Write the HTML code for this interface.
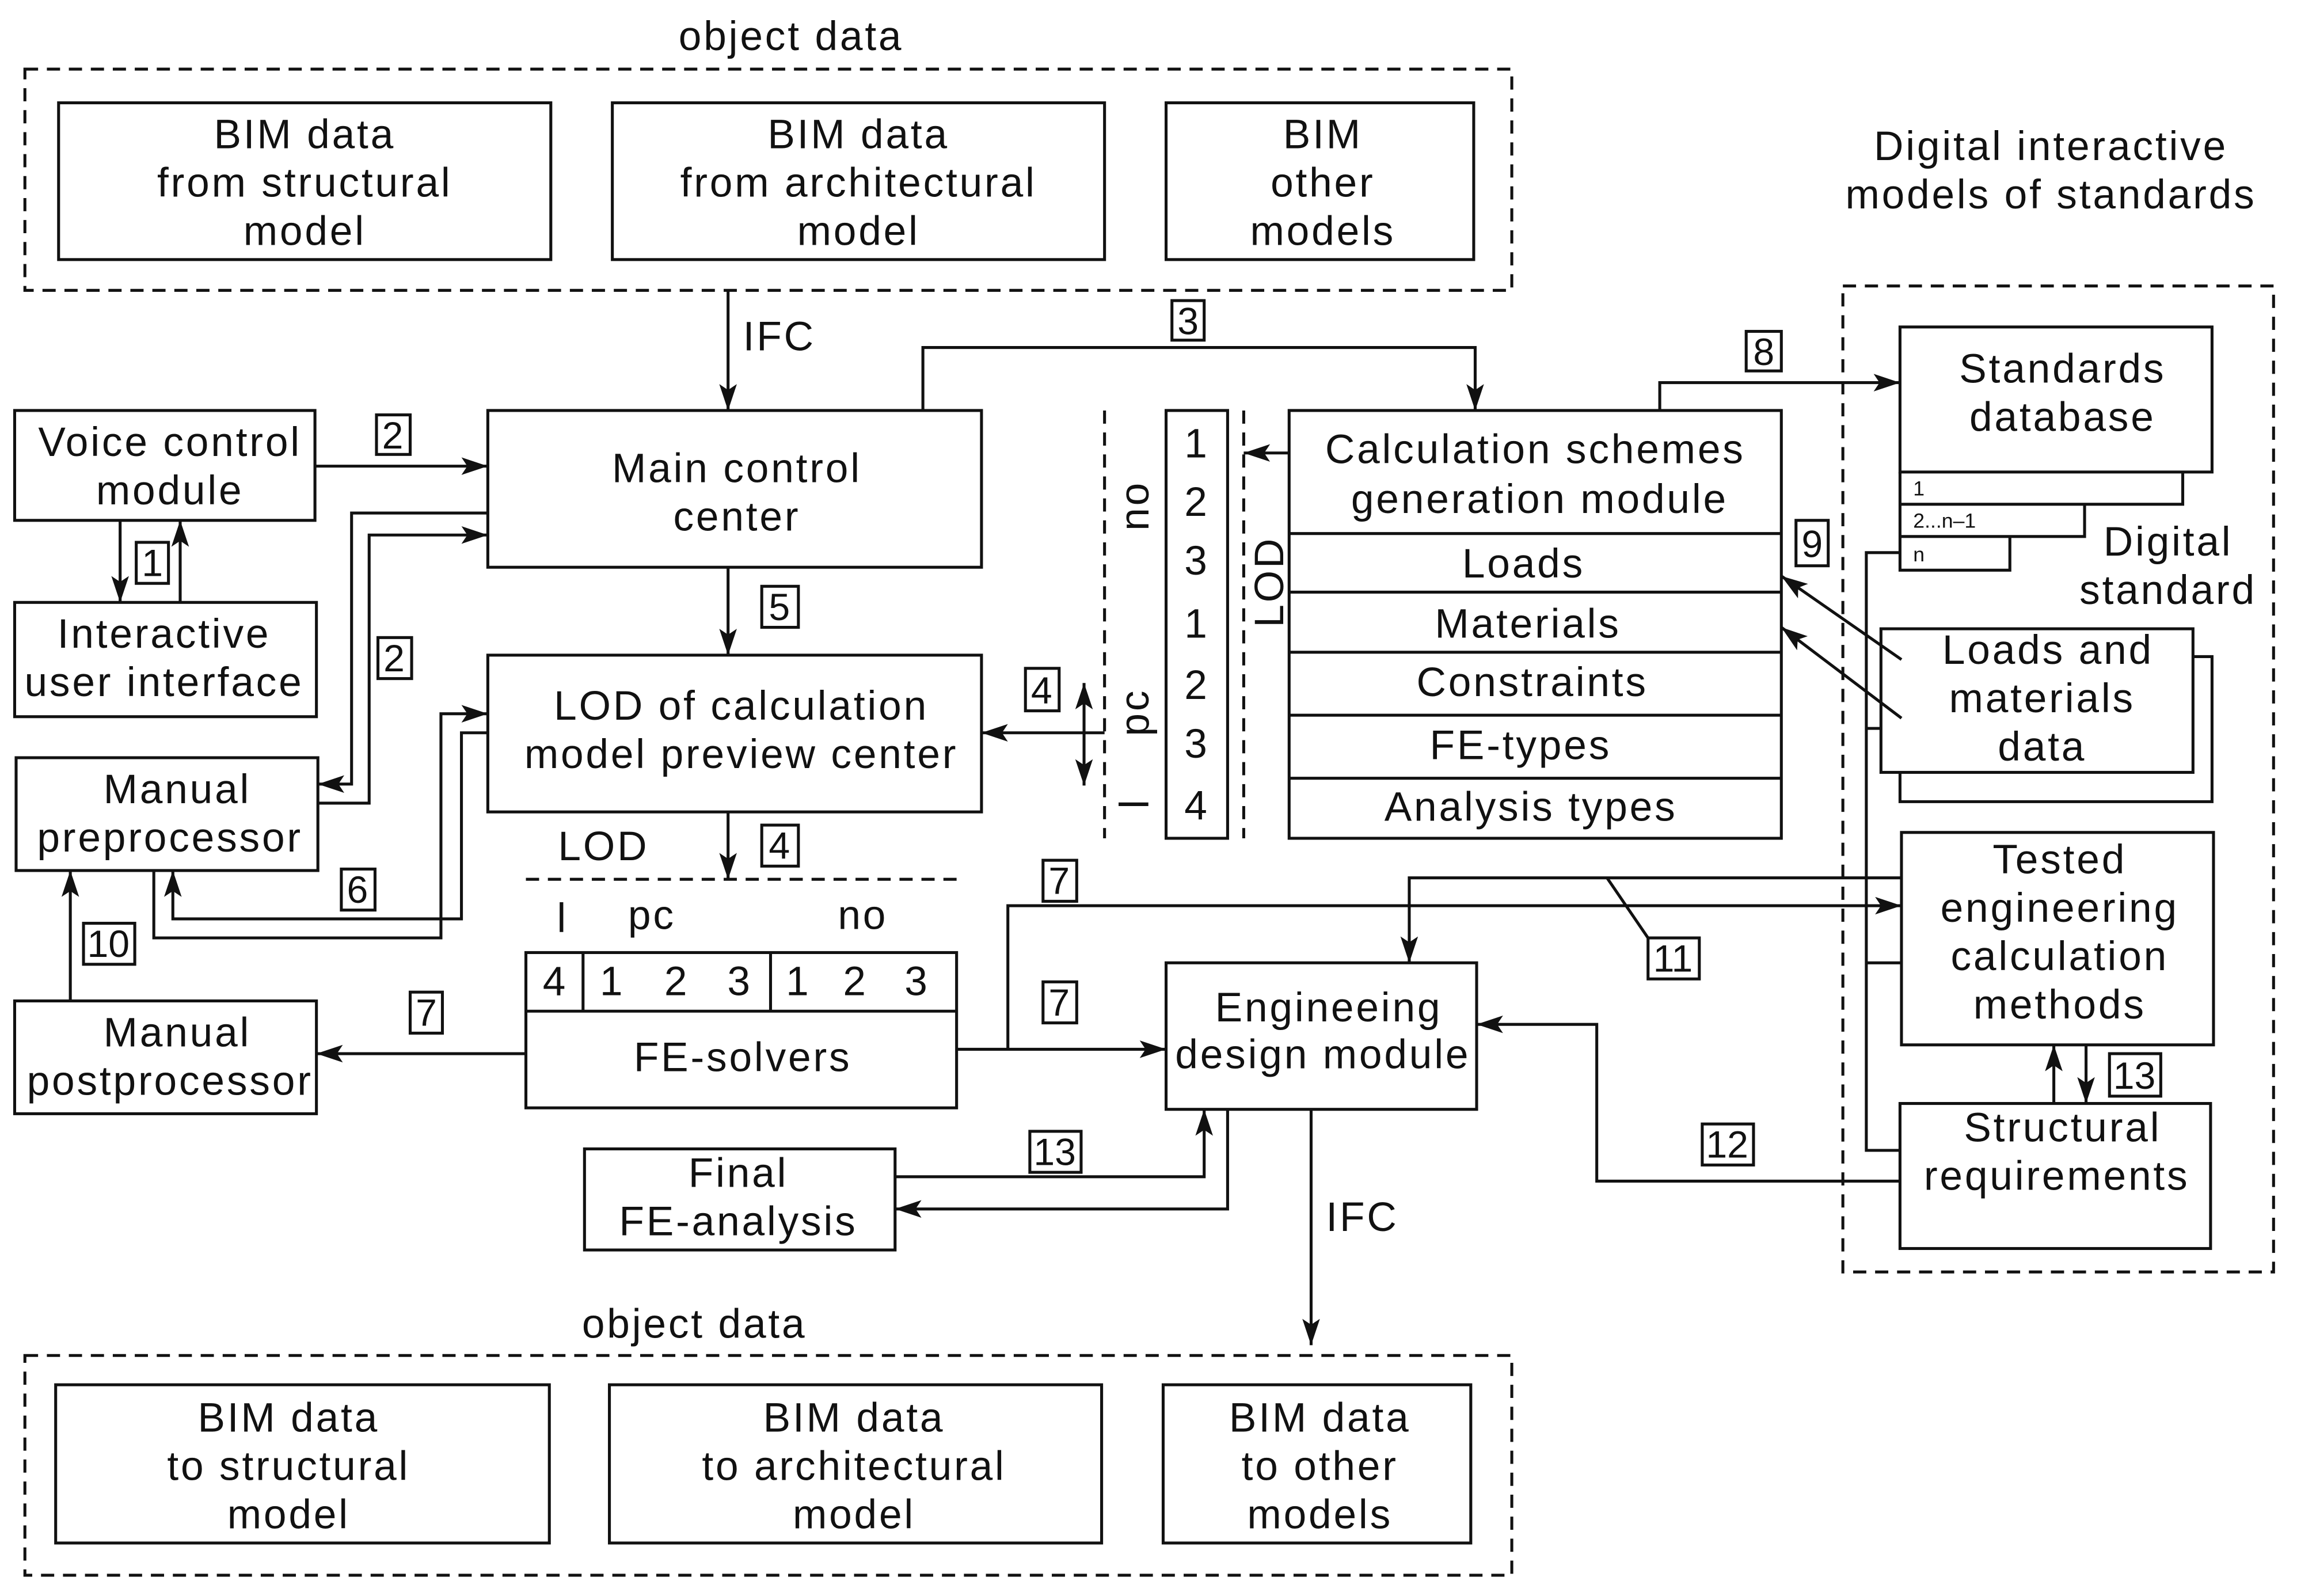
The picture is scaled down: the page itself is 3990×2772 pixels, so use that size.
<!DOCTYPE html>
<html><head><meta charset="utf-8"><style>html,body{margin:0;padding:0;background:#fff}svg{display:block}</style></head>
<body>
<svg xmlns="http://www.w3.org/2000/svg" width="3990" height="2772" viewBox="0 0 1568 1089" font-family="Liberation Sans, Arial, sans-serif" fill="none" stroke="#111">
<defs>
<marker id="a" markerUnits="userSpaceOnUse" markerWidth="20" markerHeight="14" refX="18" refY="6" orient="auto"><path d="M0,0 L18,6 L0,12 L4,6 Z" fill="#111" stroke="none"/></marker>
</defs>
<g stroke-width="2">
<rect x="17" y="47" width="1015" height="151" stroke-dasharray="9,6"/>
<rect x="40" y="70" width="336" height="107"/>
<rect x="418" y="70" width="336" height="107"/>
<rect x="796" y="70" width="210" height="107"/>
<rect x="17" y="925" width="1015" height="150" stroke-dasharray="9,6"/>
<rect x="38" y="945" width="337" height="108"/>
<rect x="416" y="945" width="336" height="108"/>
<rect x="794" y="945" width="210" height="108"/>
<rect x="10" y="280" width="205" height="75"/>
<rect x="10" y="411" width="206" height="78"/>
<rect x="11" y="517" width="206" height="77"/>
<rect x="10" y="683" width="206" height="77"/>
<rect x="333" y="280" width="337" height="107"/>
<rect x="333" y="447" width="337" height="107"/>
<rect x="359" y="650" width="294" height="106"/>
<path d="M359,690 H653 M398,650 V690 M526,650 V690"/>
<path d="M359,600 H653" stroke-dasharray="9,6"/>
<rect x="796" y="280" width="42" height="292"/>
<path d="M754,280 V572 M849,280 V572" stroke-dasharray="9,6"/>
<rect x="880" y="280" width="336" height="292"/>
<path d="M880,364 H1216 M880,404 H1216 M880,445 H1216 M880,488 H1216 M880,531 H1216"/>
<rect x="796" y="657" width="212" height="100"/>
<rect x="399" y="784" width="212" height="69"/>
<rect x="1258" y="195" width="294" height="673" stroke-dasharray="9,6"/>
<rect x="1297" y="223" width="213" height="99"/>
<path d="M1297,322 V389 H1372 V366 M1297,366 H1423 V344 M1297,344 H1490 V322"/>
<path d="M1497,448 H1510 V547 H1297 V527"/>
<rect x="1284" y="429" width="213" height="98" fill="#fff"/>
<rect x="1298" y="568" width="213" height="145"/>
<rect x="1297" y="753" width="212" height="99"/>
<path d="M1297,377 H1274 V785 H1297 M1274,497 H1284 M1274,657 H1298"/>
<path d="M497,198 V280" marker-end="url(#a)"/>
<path d="M630,280 V237 H1007 V280" marker-end="url(#a)"/>
<path d="M215,318 H333" marker-end="url(#a)"/>
<path d="M82,355 V411" marker-end="url(#a)"/>
<path d="M123,411 V355" marker-end="url(#a)"/>
<path d="M333,350 H240 V535 H217" marker-end="url(#a)"/>
<path d="M217,548 H252 V365 H333" marker-end="url(#a)"/>
<path d="M105,594 V640 H301 V487 H333" marker-end="url(#a)"/>
<path d="M333,500 H315 V627 H118 V594" marker-end="url(#a)"/>
<path d="M48,683 V594" marker-end="url(#a)"/>
<path d="M497,387 V447" marker-end="url(#a)"/>
<path d="M497,554 V600" marker-end="url(#a)"/>
<path d="M754,500 H670" marker-end="url(#a)"/>
<path d="M740,500 V466" marker-end="url(#a)"/>
<path d="M740,500 V536" marker-end="url(#a)"/>
<path d="M880,309 H849" marker-end="url(#a)"/>
<path d="M1133,280 V261 H1297" marker-end="url(#a)"/>
<path d="M1298,450 L1216,393" marker-end="url(#a)"/>
<path d="M1298,490 L1216,428" marker-end="url(#a)"/>
<path d="M359,719 H216" marker-end="url(#a)"/>
<path d="M653,716 H796" marker-end="url(#a)"/>
<path d="M688,716 V618 H1298" marker-end="url(#a)"/>
<path d="M1298,599 H962 V657" marker-end="url(#a)"/>
<path d="M1097,599 L1125,640"/>
<path d="M1297,806 H1090 V699 H1008" marker-end="url(#a)"/>
<path d="M611,803 H822 V757" marker-end="url(#a)"/>
<path d="M838,757 V825 H611" marker-end="url(#a)"/>
<path d="M895,757 V918" marker-end="url(#a)"/>
<path d="M1402,753 V713" marker-end="url(#a)"/>
<path d="M1424,713 V753" marker-end="url(#a)"/>
<rect x="257" y="283" width="23" height="27"/>
<rect x="93" y="370" width="22" height="28"/>
<rect x="258" y="435" width="23" height="28"/>
<rect x="233" y="593" width="23" height="28"/>
<rect x="57" y="630" width="35" height="28"/>
<rect x="520" y="400" width="25" height="28"/>
<rect x="520" y="563" width="25" height="28"/>
<rect x="700" y="456" width="23" height="29"/>
<rect x="800" y="205" width="22" height="27"/>
<rect x="1192" y="226" width="24" height="27"/>
<rect x="1226" y="355" width="22" height="31"/>
<rect x="280" y="677" width="22" height="28"/>
<rect x="712" y="587" width="23" height="28"/>
<rect x="712" y="670" width="23" height="28"/>
<rect x="1125" y="640" width="35" height="28"/>
<rect x="1162" y="767" width="35" height="28"/>
<rect x="703" y="772" width="35" height="28"/>
<rect x="1440" y="719" width="35" height="29"/>
</g>
<g fill="#111" stroke="none" font-size="28" letter-spacing="1.5" text-anchor="middle">
<text x="540" y="34">object data</text>
<text x="474" y="913">object data</text>
<text x="208" y="101">BIM data</text><text x="208" y="134">from structural</text><text x="208" y="167">model</text>
<text x="586" y="101">BIM data</text><text x="586" y="134">from architectural</text><text x="586" y="167">model</text>
<text x="903" y="101">BIM</text><text x="903" y="134">other</text><text x="903" y="167">models</text>
<text x="197" y="977">BIM data</text><text x="197" y="1010">to structural</text><text x="197" y="1043">model</text>
<text x="583" y="977">BIM data</text><text x="583" y="1010">to architectural</text><text x="583" y="1043">model</text>
<text x="901" y="977">BIM data</text><text x="901" y="1010">to other</text><text x="901" y="1043">models</text>
<text x="532" y="239">IFC</text>
<text x="930" y="840">IFC</text>
<text x="116" y="311">Voice control</text><text x="116" y="344">module</text>
<text x="112" y="442">Interactive</text><text x="112" y="475">user interface</text>
<text x="121" y="548">Manual</text><text x="116" y="581">preprocessor</text>
<text x="121" y="714">Manual</text><text x="116" y="747">postprocessor</text>
<text x="503" y="329">Main control</text><text x="503" y="362">center</text>
<text x="506" y="491">LOD of calculation</text><text x="506" y="524">model preview center</text>
<text x="412" y="587">LOD</text>
<text x="384" y="636">l</text><text x="445" y="634">pc</text><text x="589" y="634">no</text>
<text x="379" y="679">4</text><text x="418" y="679">1</text><text x="462" y="679">2</text><text x="505" y="679">3</text>
<text x="545" y="679">1</text><text x="584" y="679">2</text><text x="626" y="679">3</text>
<text x="507" y="731">FE-solvers</text>
<text x="817" y="312">1</text><text x="817" y="352">2</text><text x="817" y="392">3</text><text x="817" y="435">1</text><text x="817" y="477">2</text><text x="817" y="517">3</text><text x="817" y="559">4</text>
<text transform="translate(784,345) rotate(-90)">no</text>
<text transform="translate(784,486) rotate(-90)">pc</text>
<text transform="translate(784,548) rotate(-90)">l</text>
<text transform="translate(876,397) rotate(-90)">LOD</text>
<text x="1048" y="316">Calculation schemes</text><text x="1051" y="350">generation module</text>
<text x="1040" y="394">Loads</text><text x="1043" y="435">Materials</text><text x="1046" y="475">Constraints</text>
<text x="1038" y="518">FE-types</text><text x="1045" y="560">Analysis types</text>
<text x="1400" y="109">Digital interactive</text><text x="1400" y="142">models of standards</text>
<text x="1408" y="261">Standards</text><text x="1408" y="294">database</text>
<text x="1480" y="379">Digital</text><text x="1480" y="412">standard</text>
<text x="1398" y="453">Loads and</text><text x="1394" y="486">materials</text><text x="1394" y="519">data</text>
<text x="1406" y="596">Tested</text><text x="1406" y="629">engineering</text><text x="1406" y="662">calculation</text><text x="1406" y="695">methods</text>
<text x="1408" y="779">Structural</text><text x="1404" y="812">requirements</text>
<text x="907" y="697">Engineeing</text><text x="903" y="729">design module</text>
<text x="504" y="810">Final</text><text x="504" y="843">FE-analysis</text>
</g>
<g fill="#111" stroke="none" font-size="14" text-anchor="start">
<text x="1306" y="338">1</text><text x="1306" y="360">2...n–1</text><text x="1306" y="383">n</text>
</g>
<g fill="#111" stroke="none" font-size="26" text-anchor="middle">
<text x="268" y="306">2</text><text x="104" y="393">1</text><text x="269" y="458">2</text><text x="244" y="616">6</text>
<text x="74" y="653">10</text><text x="532" y="423">5</text><text x="532" y="586">4</text><text x="711" y="480">4</text>
<text x="811" y="228">3</text><text x="1204" y="249">8</text><text x="1237" y="380">9</text><text x="291" y="700">7</text>
<text x="723" y="610">7</text><text x="723" y="693">7</text><text x="1142" y="663">11</text><text x="1179" y="790">12</text>
<text x="720" y="795">13</text><text x="1457" y="743">13</text>
</g>
</svg>
</body></html>
